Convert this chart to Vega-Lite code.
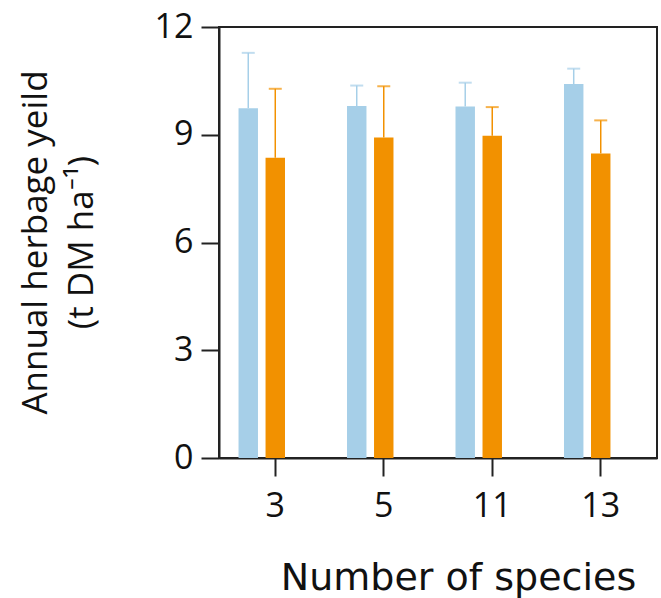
{
  "$schema": "https://vega.github.io/schema/vega-lite/v6.json",
  "width": 438,
  "height": 431,
  "autosize": "none",
  "padding": {"left": 219, "top": 27, "right": 4, "bottom": 140},
  "background": "white",
  "config": {
    "view": {"stroke": "#222", "strokeWidth": 2},
    "axis": {"grid": false, "domainColor": "#222", "domainWidth": 2, "tickColor": "#222", "tickWidth": 2, "tickSize": 18, "labelColor": "#111", "labelFont": "Open Sans", "labelFontSize": 34, "titleColor": "#111", "titleFontWeight": "normal"}
  },
  "data": {
    "values": [
      {"species": 3, "group": "A", "mean": 9.74, "upper": 11.28},
      {"species": 3, "group": "B", "mean": 8.36, "upper": 10.28},
      {"species": 5, "group": "A", "mean": 9.80, "upper": 10.37},
      {"species": 5, "group": "B", "mean": 8.92, "upper": 10.35},
      {"species": 11, "group": "A", "mean": 9.79, "upper": 10.45},
      {"species": 11, "group": "B", "mean": 8.97, "upper": 9.77},
      {"species": 13, "group": "A", "mean": 10.41, "upper": 10.84},
      {"species": 13, "group": "B", "mean": 8.48, "upper": 9.40}
    ]
  },
  "encoding": {
    "x": {
      "field": "species", "type": "ordinal",
      "scale": {"paddingInner": 0.3226, "paddingOuter": 0.18},
      "axis": {"labelAngle": 0, "labelPadding": 13, "title": "Number of species", "titleFont": "DejaVu Sans", "titleFontSize": 38, "titleX": 239, "titleY": 131, "titleAlign": "center", "titleBaseline": "alphabetic"}
    },
    "xOffset": {"field": "group", "type": "nominal", "scale": {"domain": ["A", "B", "C"], "paddingInner": 0.28, "paddingOuter": 0}},
    "color": {"field": "group", "type": "nominal", "scale": {"domain": ["A", "B"], "range": ["#a6cfe8", "#f29100"]}, "legend": null}
  },
  "layer": [
    {
      "mark": {"type": "rule", "strokeWidth": 1.5},
      "encoding": {
        "y": {"field": "mean", "type": "quantitative"},
        "y2": {"field": "upper"}
      }
    },
    {
      "mark": {"type": "tick", "size": 13, "thickness": 2},
      "encoding": {
        "y": {"field": "upper", "type": "quantitative"}
      }
    },
    {
      "mark": {"type": "bar"},
      "encoding": {
        "y": {
          "field": "mean", "type": "quantitative",
          "scale": {"domain": [0, 12], "nice": false},
          "axis": {"values": [0, 3, 6, 9, 12], "labelPadding": 8, "title": ["Annual herbage yeild", "(t DM ha⁻¹)"], "titleFont": "Open Sans", "titleFontSize": 35, "titleLineHeight": 46, "titleAngle": -90, "titleX": -173, "titleY": 215, "titleAlign": "center", "titleBaseline": "alphabetic"}
        }
      }
    }
  ]
}
